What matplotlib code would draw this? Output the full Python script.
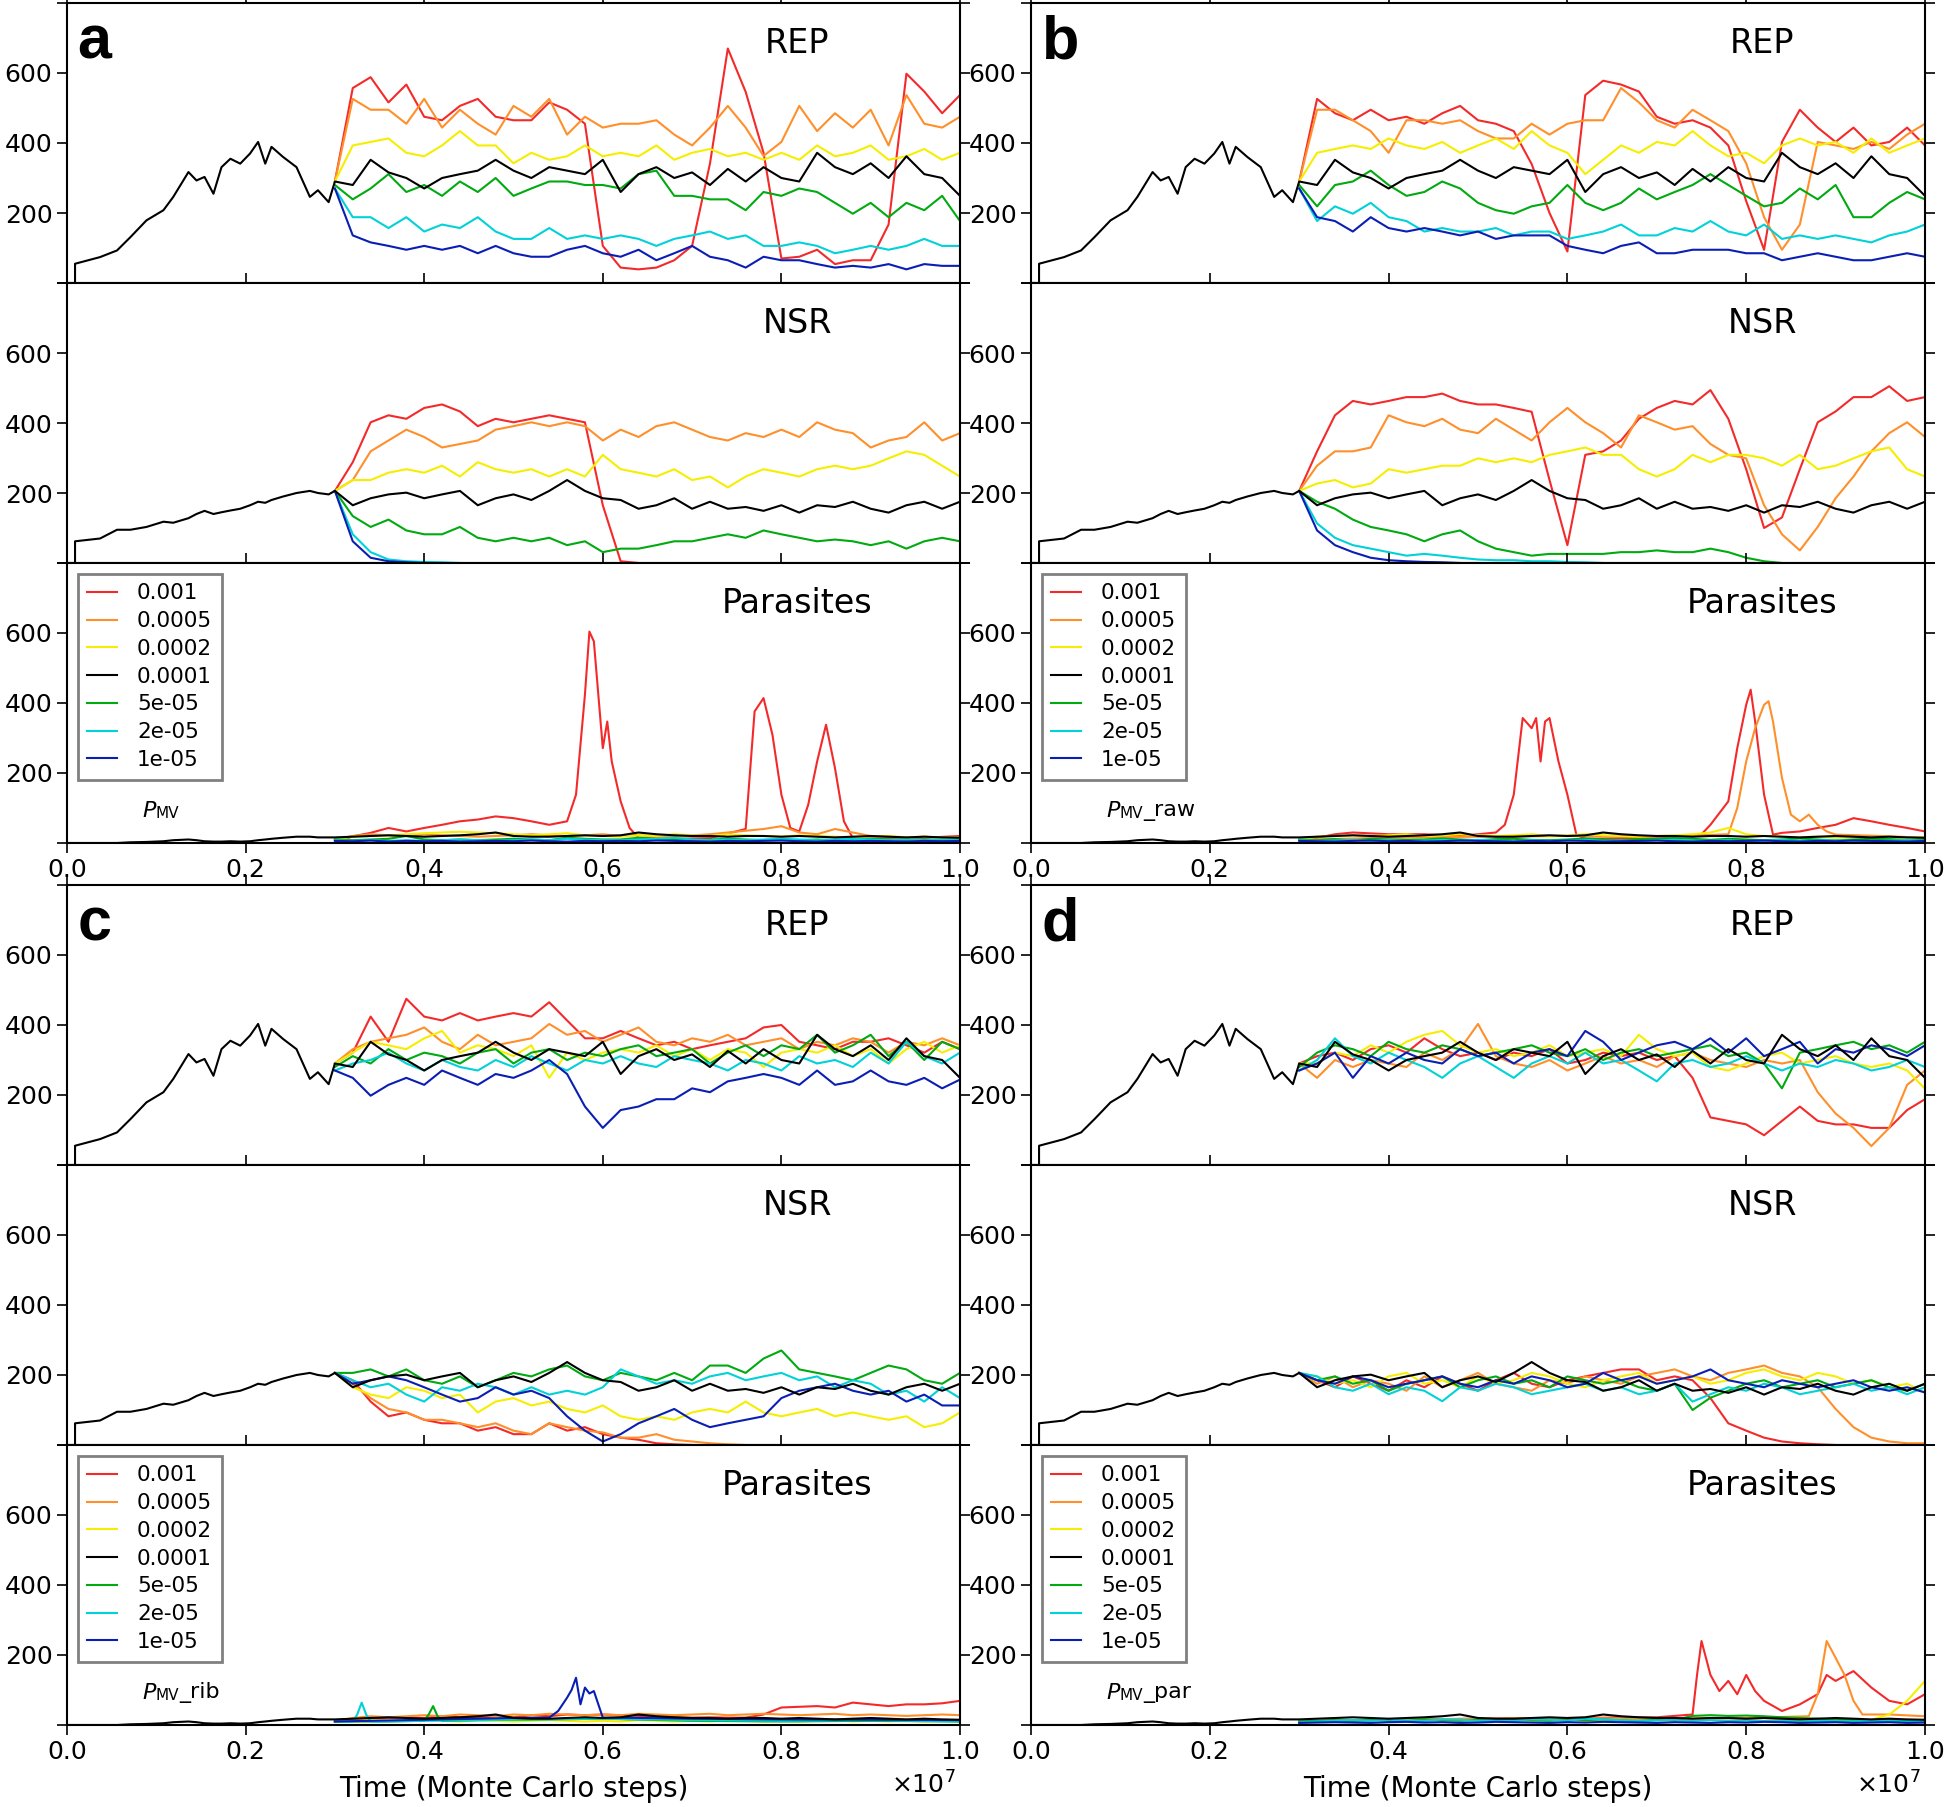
import numpy as np
import matplotlib.pyplot as plt
from matplotlib.lines import Line2D

# colours / labels in legend order (0.0001 = black reference run)
COLORS = ['#f42a2a', '#ff8f2a', '#f6ee00', '#000000', '#00aa10', '#00d2d8', '#0a1eb4']
LABELS = ['0.001', '0.0005', '0.0002', '0.0001', '5e-05', '2e-05', '1e-05']

# sampling times after the switch at 0.3e7 (units of 1e7 MC steps)
T = np.round(np.arange(0.30, 1.001, 0.02), 2)

# common black run before 0.3e7
PRE_X = [0.0, 0.009, 0.009, 0.037, 0.056, 0.071, 0.089, 0.108, 0.119, 0.136, 0.145, 0.154, 0.164,
         0.173, 0.183, 0.194, 0.205, 0.214, 0.222, 0.229, 0.242, 0.257, 0.272, 0.281, 0.293]
PRE_REP = [0, 0, 55, 74, 93, 131, 179, 208, 246, 317, 293, 303, 255, 331, 355, 341, 370, 403, 341,
           389, 360, 331, 246, 265, 231]
PRE_NSR = [0, 0, 62, 70, 95, 95, 103, 118, 115, 128, 140, 149, 140, 145, 150, 155, 165, 175, 172,
           180, 190, 200, 206, 200, 196]
PRE_PAR = [0, 0, 0, 0, 0, 2, 3, 5, 8, 10, 8, 5, 4, 4, 5, 4, 5, 8, 10, 12, 15, 18, 18, 16, 16]

# black (0.0001) run after 0.3e7, same in all panels
BLACK_REP = [290, 280, 352, 316, 300, 270, 300, 311, 321, 352, 321, 300, 331, 321, 311, 352, 260, 311,
             331, 300, 316, 280, 326, 290, 331, 300, 290, 372, 331, 311, 342, 300, 362, 311, 300, 249]
BLACK_NSR = [206, 165, 185, 196, 201, 185, 196, 206, 165, 185, 196, 180, 206, 237, 206, 185, 180, 155,
             165, 185, 155, 175, 155, 160, 149, 165, 144, 165, 160, 175, 155, 144, 165, 175, 155, 175]
BLACK_PAR = [16, 18, 20, 22, 20, 18, 20, 22, 25, 30, 20, 18, 18, 20, 22, 20, 22, 30, 25, 22, 20, 20,
             18, 20, 20, 18, 20, 18, 16, 18, 20, 18, 16, 18, 16, 15]

# ---- panel a (P_MV) : red, orange, yellow, green, cyan, blue
A_REP = [
    [290, 557, 588, 516, 567, 475, 465, 506, 526, 475, 465, 465, 516, 495, 455, 106, 44, 39, 44, 65,
     106, 341, 670, 546, 372, 70, 75, 95, 54, 65, 65, 167, 598, 547, 485, 537],
    [290, 526, 495, 495, 455, 526, 444, 495, 455, 424, 506, 475, 526, 424, 475, 444, 455, 455, 465, 424,
     393, 444, 506, 444, 363, 403, 506, 434, 485, 444, 495, 393, 537, 455, 444, 475],
    [290, 393, 403, 413, 372, 362, 393, 434, 393, 393, 342, 372, 352, 362, 393, 362, 372, 362, 393, 352,
     372, 383, 362, 372, 352, 372, 352, 393, 362, 372, 393, 352, 362, 383, 352, 372],
    [280, 239, 270, 311, 260, 280, 249, 290, 260, 300, 249, 270, 290, 290, 280, 280, 270, 311, 321, 249,
     249, 239, 239, 208, 260, 249, 270, 260, 229, 198, 229, 188, 229, 208, 249, 177],
    [270, 188, 188, 157, 188, 147, 167, 157, 188, 147, 126, 126, 157, 126, 136, 126, 136, 126, 106, 126,
     136, 147, 126, 136, 106, 106, 116, 106, 85, 95, 106, 95, 106, 126, 106, 106],
    [270, 136, 116, 106, 95, 106, 95, 106, 85, 106, 85, 75, 75, 95, 106, 85, 75, 95, 65, 85,
     106, 75, 65, 44, 75, 65, 65, 54, 44, 49, 44, 54, 39, 54, 49, 49],
]
A_NSR = [
    [206, 288, 402, 422, 412, 443, 453, 433, 391, 412, 402, 412, 422, 412, 402, 165, 5, 0],
    [206, 237, 319, 350, 381, 360, 330, 340, 350, 381, 391, 402, 391, 402, 391, 350, 381, 360, 391, 402,
     381, 360, 350, 371, 360, 381, 360, 402, 381, 371, 330, 350, 360, 402, 350, 371],
    [206, 237, 237, 258, 268, 258, 278, 247, 288, 268, 258, 268, 247, 268, 247, 309, 268, 258, 247, 268,
     237, 247, 216, 247, 268, 258, 247, 268, 278, 268, 278, 299, 319, 309, 278, 247],
    [206, 134, 103, 124, 93, 82, 82, 103, 72, 62, 72, 62, 72, 51, 62, 31, 41, 41, 51, 62,
     62, 72, 82, 72, 93, 82, 72, 62, 67, 62, 51, 62, 41, 62, 72, 62],
    [206, 82, 31, 10, 5, 3, 2, 0],
    [206, 62, 15, 5, 2, 0],
]
A_PAR_RED_X = [0.31, 0.32, 0.34, 0.36, 0.38, 0.40, 0.42, 0.44, 0.46, 0.48, 0.50, 0.52, 0.54, 0.56,
               0.57, 0.58, 0.585, 0.59, 0.60, 0.605, 0.61, 0.62, 0.63, 0.64, 0.68, 0.72, 0.76, 0.77,
               0.78, 0.79, 0.80, 0.81, 0.82, 0.83, 0.84, 0.85, 0.86, 0.87, 0.88, 0.92, 0.96, 1.0]
A_PAR_RED_Y = [10, 19, 29, 43, 33, 43, 52, 62, 67, 76, 71, 62, 52, 62, 138, 424, 604, 576, 271, 347,
               233, 119, 43, 14, 12, 14, 40, 376, 414, 309, 138, 43, 33, 109, 233, 338, 214, 62, 14,
               15, 15, 20]
A_PAR = [
    (A_PAR_RED_X, A_PAR_RED_Y),
    [10, 20, 25, 22, 20, 25, 22, 20, 18, 20, 22, 25, 22, 20, 22, 25, 20, 22, 18, 20, 22, 25, 30, 35,
     40, 48, 30, 25, 40, 30, 20, 18, 15, 18, 15, 15],
    [10, 18, 20, 22, 25, 28, 30, 32, 30, 28, 25, 22, 25, 28, 22, 20, 18, 22, 20, 25, 22, 20, 25, 22,
     20, 18, 22, 20, 18, 16, 18, 20, 16, 18, 15, 16],
    [10, 8, 10, 12, 20, 10, 8, 10, 8, 10, 12, 10, 8, 15, 12, 10, 10, 15, 12, 10, 8, 10, 12, 10,
     8, 10, 8, 10, 8, 10, 12, 10, 8, 10, 8, 10],
    [8, 6, 8, 6, 8, 6, 8, 10, 8, 6, 8, 10, 8, 12, 10, 8, 8, 10, 12, 15, 10, 8, 10, 8,
     10, 12, 10, 8, 10, 12, 10, 8, 10, 8, 10, 8],
    [6, 5, 7, 4, 6, 5, 6, 4, 5, 6, 5, 7, 5, 4, 6, 5, 6, 5, 7, 6, 5, 4, 6, 5,
     6, 7, 5, 4, 6, 5, 6, 5, 4, 6, 5, 6],
]

# ---- panel b (P_MV_raw)
B_REP = [
    [290, 526, 485, 465, 495, 465, 475, 455, 485, 506, 465, 455, 434, 340, 200, 90, 537, 578, 567, 547,
     475, 455, 465, 444, 393, 234, 95, 403, 495, 444, 403, 444, 393, 403, 444, 393],
    [290, 495, 495, 465, 434, 372, 465, 465, 455, 465, 434, 413, 413, 455, 424, 455, 465, 465, 557, 516,
     465, 444, 495, 465, 434, 342, 188, 95, 167, 403, 393, 383, 403, 383, 424, 455],
    [290, 372, 383, 393, 383, 413, 393, 383, 403, 372, 393, 413, 383, 434, 393, 372, 311, 352, 393, 372,
     403, 393, 434, 393, 362, 372, 342, 393, 413, 393, 403, 372, 413, 372, 393, 413],
    [280, 219, 280, 290, 321, 280, 249, 260, 290, 270, 229, 208, 198, 219, 229, 280, 229, 208, 229, 270,
     239, 260, 280, 311, 280, 249, 219, 229, 270, 239, 280, 188, 188, 229, 260, 239],
    [270, 177, 219, 198, 229, 188, 177, 147, 157, 147, 147, 157, 136, 147, 147, 126, 136, 147, 167, 136,
     136, 157, 147, 177, 147, 136, 167, 126, 136, 126, 136, 126, 116, 136, 147, 167],
    [270, 188, 177, 147, 188, 157, 147, 157, 147, 136, 147, 126, 136, 136, 136, 106, 95, 85, 106, 116,
     85, 85, 95, 95, 95, 85, 85, 65, 75, 85, 75, 65, 65, 75, 85, 75],
]
B_NSR = [
    [206, 319, 422, 463, 453, 463, 474, 474, 484, 463, 453, 453, 443, 432, 237, 51, 309, 319, 350, 412,
     443, 463, 453, 494, 412, 268, 100, 130, 268, 402, 433, 474, 474, 505, 463, 474],
    [206, 278, 319, 319, 330, 422, 402, 391, 412, 381, 371, 412, 381, 350, 402, 443, 402, 371, 330, 422,
     402, 381, 391, 340, 309, 299, 165, 82, 36, 103, 185, 247, 319, 371, 402, 360],
    [206, 227, 237, 216, 227, 268, 258, 268, 278, 278, 299, 288, 299, 288, 309, 319, 330, 309, 309, 268,
     247, 268, 309, 288, 309, 309, 299, 278, 309, 268, 278, 299, 319, 330, 268, 247],
    [206, 175, 155, 124, 103, 93, 82, 62, 82, 93, 62, 41, 31, 21, 26, 26, 26, 26, 31, 31,
     36, 31, 31, 41, 31, 15, 5, 0],
    [206, 113, 72, 51, 41, 31, 21, 26, 21, 15, 10, 8, 8, 5, 5, 3, 2, 0],
    [206, 93, 51, 31, 15, 8, 5, 3, 2, 0],
]
B_PAR_RED_X = [0.31, 0.34, 0.36, 0.40, 0.44, 0.48, 0.52, 0.53, 0.54, 0.55, 0.56, 0.565, 0.57, 0.575,
               0.58, 0.59, 0.60, 0.61, 0.62, 0.70, 0.75, 0.76, 0.78, 0.79, 0.80, 0.805, 0.81, 0.82,
               0.83, 0.84, 0.86, 0.88, 0.90, 0.92, 0.94, 0.96, 0.98, 1.0]
B_PAR_RED_Y = [10, 25, 30, 25, 25, 20, 30, 52, 138, 357, 328, 357, 233, 347, 357, 233, 138, 24, 12, 15,
               25, 52, 119, 271, 395, 438, 347, 138, 24, 29, 33, 43, 52, 71, 62, 52, 43, 33]
B_PAR_ORA_X = [0.31, 0.40, 0.50, 0.60, 0.70, 0.78, 0.79, 0.80, 0.81, 0.82, 0.825, 0.83, 0.84, 0.85,
               0.86, 0.87, 0.88, 0.89, 0.90, 0.95, 1.0]
B_PAR_ORA_Y = [10, 15, 18, 20, 18, 25, 100, 233, 328, 395, 405, 347, 186, 81, 62, 81, 52, 33, 24, 20, 15]
B_PAR = [
    (B_PAR_RED_X, B_PAR_RED_Y),
    (B_PAR_ORA_X, B_PAR_ORA_Y),
    [10, 18, 20, 22, 20, 22, 25, 20, 22, 25, 22, 20, 22, 25, 20, 22, 25, 22, 20, 18, 20, 22, 25, 30,
     43, 25, 20, 18, 16, 18, 15, 16, 15, 14, 15, 16],
    [10, 8, 11, 7, 12, 10, 9, 10, 13, 10, 8, 11, 12, 9, 8, 10, 13, 10, 8, 11, 12, 14, 12, 9,
     12, 10, 8, 10, 13, 10, 7, 10, 12, 11, 8, 10],
    [8, 6, 7, 9, 6, 8, 5, 7, 8, 6, 9, 7, 5, 8, 6, 7, 9, 6, 7, 5, 8, 9, 7, 6,
     8, 5, 7, 9, 6, 7, 8, 6, 5, 7, 9, 6],
    [6, 5, 4, 6, 7, 5, 6, 4, 5, 7, 6, 5, 4, 6, 5, 7, 6, 4, 5, 6, 7, 5, 4, 6,
     5, 6, 7, 5, 4, 6, 5, 7, 6, 5, 4, 6],
]

# ---- panel c (P_MV_rib)
C_REP = [
    [290, 321, 424, 352, 475, 424, 413, 434, 413, 424, 434, 424, 465, 413, 362, 362, 383, 362, 342, 352,
     331, 342, 352, 362, 393, 400, 352, 342, 331, 352, 352, 362, 342, 321, 352, 331],
    [290, 331, 352, 362, 372, 393, 352, 331, 372, 342, 352, 362, 403, 372, 383, 352, 372, 393, 352, 342,
     362, 352, 372, 342, 352, 362, 331, 352, 342, 362, 352, 321, 352, 342, 362, 342],
    [290, 321, 352, 342, 331, 362, 383, 321, 342, 331, 311, 342, 249, 321, 300, 321, 331, 321, 342, 311,
     331, 300, 331, 321, 280, 321, 331, 321, 342, 311, 331, 290, 331, 352, 321, 342],
    [280, 311, 290, 331, 300, 321, 311, 290, 321, 331, 290, 321, 331, 300, 321, 311, 331, 342, 311, 321,
     331, 290, 321, 342, 311, 342, 331, 372, 321, 342, 372, 311, 352, 300, 352, 331],
    [270, 290, 300, 321, 290, 270, 300, 280, 270, 300, 280, 311, 290, 270, 300, 290, 311, 290, 280, 311,
     300, 290, 270, 300, 290, 270, 311, 290, 300, 280, 321, 290, 352, 311, 290, 321],
    [270, 249, 198, 229, 249, 229, 270, 249, 229, 260, 249, 270, 300, 260, 167, 106, 157, 167, 188, 188,
     219, 208, 239, 249, 260, 249, 229, 270, 229, 239, 270, 239, 229, 249, 219, 244],
]
C_NSR = [
    [206, 185, 124, 82, 93, 72, 62, 62, 41, 51, 31, 31, 62, 41, 51, 31, 21, 15, 5, 2, 0],
    [206, 175, 134, 103, 93, 72, 72, 62, 51, 62, 41, 31, 62, 51, 41, 36, 21, 21, 31, 15, 10, 5, 2, 0],
    [206, 165, 144, 134, 165, 155, 134, 144, 93, 124, 134, 113, 124, 103, 93, 113, 82, 72, 82, 72,
     93, 103, 93, 124, 93, 82, 93, 103, 82, 93, 82, 72, 82, 51, 62, 93],
    [206, 206, 216, 196, 216, 185, 175, 196, 165, 185, 206, 196, 216, 227, 196, 185, 206, 196, 185, 206,
     185, 227, 227, 206, 247, 270, 216, 206, 196, 185, 206, 227, 216, 185, 175, 206],
    [206, 185, 165, 175, 144, 124, 165, 155, 175, 165, 144, 165, 144, 155, 144, 165, 216, 196, 175, 185,
     175, 196, 206, 185, 196, 206, 185, 196, 165, 185, 175, 144, 155, 124, 165, 134],
    [206, 175, 185, 196, 185, 165, 144, 124, 134, 165, 144, 155, 134, 82, 41, 10, 31, 62, 82, 103,
     72, 51, 62, 72, 82, 134, 155, 165, 175, 155, 144, 155, 124, 144, 113, 113],
]
C_PAR_GRN_X = [0.30, 0.36, 0.40, 0.405, 0.41, 0.415, 0.42, 0.50, 0.60, 0.70, 0.80, 0.90, 1.0]
C_PAR_GRN_Y = [10, 10, 12, 30, 54, 25, 12, 15, 18, 12, 10, 12, 10]
C_PAR_CYA_X = [0.30, 0.32, 0.325, 0.33, 0.335, 0.34, 0.40, 0.50, 0.60, 0.70, 0.80, 0.90, 1.0]
C_PAR_CYA_Y = [10, 10, 30, 64, 30, 10, 12, 15, 18, 14, 12, 14, 10]
C_PAR_BLU_X = [0.30, 0.40, 0.50, 0.54, 0.55, 0.555, 0.56, 0.565, 0.57, 0.575, 0.58, 0.585, 0.59,
               0.595, 0.60, 0.65, 0.70, 0.80, 0.90, 1.0]
C_PAR_BLU_Y = [10, 15, 20, 21, 40, 59, 78, 100, 135, 59, 107, 90, 97, 59, 21, 20, 18, 16, 15, 14]
C_PAR = [
    [10, 15, 18, 20, 22, 20, 25, 22, 20, 25, 22, 28, 25, 30, 28, 30, 28, 26, 24, 22, 21, 22, 21, 21,
     30, 50, 52, 54, 50, 64, 59, 54, 59, 59, 62, 69],
    [10, 20, 25, 22, 25, 28, 25, 30, 28, 25, 30, 28, 32, 30, 28, 30, 28, 32, 30, 28, 30, 32, 28, 30,
     32, 30, 28, 30, 32, 28, 30, 28, 26, 28, 30, 28],
    [10, 12, 15, 12, 14, 16, 12, 10, 14, 12, 10, 12, 14, 12, 10, 12, 10, 14, 12, 10, 12, 10, 14, 12,
     10, 12, 10, 12, 14, 10, 12, 10, 12, 10, 12, 10],
    (C_PAR_GRN_X, C_PAR_GRN_Y),
    (C_PAR_CYA_X, C_PAR_CYA_Y),
    (C_PAR_BLU_X, C_PAR_BLU_Y),
]

# ---- panel d (P_MV_par)
D_REP = [
    [290, 311, 321, 300, 331, 342, 321, 362, 331, 311, 321, 300, 321, 311, 331, 290, 300, 321, 311, 321,
     300, 311, 249, 136, 126, 116, 85, 126, 167, 126, 116, 116, 106, 106, 157, 188],
    [290, 249, 300, 280, 300, 290, 280, 321, 300, 331, 403, 311, 290, 280, 300, 270, 290, 311, 290, 300,
     280, 311, 321, 300, 290, 280, 300, 290, 300, 208, 147, 106, 54, 106, 229, 270],
    [290, 290, 321, 311, 342, 321, 352, 372, 383, 342, 321, 331, 311, 321, 342, 311, 321, 331, 311, 372,
     331, 311, 321, 280, 270, 290, 311, 321, 290, 300, 311, 290, 280, 290, 270, 218],
    [280, 321, 342, 331, 311, 352, 331, 321, 342, 331, 311, 321, 331, 342, 321, 311, 331, 300, 321, 331,
     311, 321, 331, 342, 311, 321, 290, 219, 321, 331, 342, 352, 331, 342, 321, 352],
    [270, 300, 362, 311, 290, 321, 300, 280, 249, 290, 311, 280, 249, 290, 311, 290, 321, 290, 300, 270,
     239, 290, 300, 280, 290, 311, 290, 270, 290, 280, 300, 290, 270, 280, 300, 280],
    [270, 290, 321, 249, 311, 290, 321, 300, 290, 331, 311, 321, 290, 321, 331, 311, 383, 352, 300, 321,
     342, 352, 331, 362, 321, 362, 311, 331, 352, 290, 331, 321, 342, 331, 311, 342],
]
D_NSR = [
    [206, 185, 165, 196, 175, 155, 185, 165, 196, 175, 155, 185, 206, 175, 165, 185, 196, 206, 216, 216,
     185, 196, 185, 134, 62, 41, 21, 10, 5, 2, 0],
    [206, 175, 196, 165, 185, 175, 155, 196, 165, 185, 206, 175, 165, 155, 185, 175, 196, 185, 175, 196,
     206, 216, 196, 185, 206, 216, 227, 206, 196, 165, 103, 51, 21, 10, 5, 5],
    [206, 196, 175, 185, 165, 196, 206, 175, 185, 165, 196, 175, 185, 206, 196, 175, 165, 185, 196, 206,
     175, 185, 196, 175, 185, 206, 216, 196, 185, 206, 196, 175, 185, 165, 175, 150],
    [206, 185, 196, 175, 185, 155, 175, 185, 196, 165, 185, 196, 175, 185, 165, 196, 185, 175, 185, 165,
     155, 175, 100, 135, 155, 175, 185, 165, 175, 185, 165, 175, 185, 165, 155, 175],
    [206, 196, 165, 155, 175, 145, 165, 155, 125, 165, 155, 175, 165, 145, 155, 165, 175, 155, 165, 145,
     155, 175, 124, 145, 165, 155, 175, 165, 145, 155, 165, 175, 155, 165, 145, 165],
    [206, 185, 175, 196, 185, 165, 175, 185, 196, 175, 165, 185, 175, 196, 185, 165, 175, 206, 185, 196,
     175, 185, 196, 216, 185, 175, 165, 185, 175, 165, 175, 185, 165, 155, 165, 150],
]
D_PAR_RED_X = [0.30, 0.40, 0.50, 0.60, 0.70, 0.74, 0.745, 0.75, 0.76, 0.77, 0.78, 0.79, 0.80, 0.81,
               0.82, 0.84, 0.86, 0.88, 0.89, 0.90, 0.92, 0.94, 0.96, 0.98, 1.0]
D_PAR_RED_Y = [10, 15, 18, 20, 22, 30, 143, 240, 143, 97, 126, 88, 143, 97, 69, 40, 59, 88, 143, 126,
               154, 107, 69, 59, 88]
D_PAR_ORA_X = [0.30, 0.40, 0.50, 0.60, 0.70, 0.80, 0.87, 0.88, 0.89, 0.90, 0.91, 0.92, 0.93, 0.96, 1.0]
D_PAR_ORA_Y = [10, 15, 18, 20, 18, 20, 25, 88, 240, 192, 143, 69, 30, 30, 25]
D_PAR = [
    (D_PAR_RED_X, D_PAR_RED_Y),
    (D_PAR_ORA_X, D_PAR_ORA_Y),
    [10, 12, 14, 12, 15, 12, 14, 16, 12, 14, 12, 15, 13, 12, 14, 16, 12, 14, 15, 12, 14, 12, 15, 14,
     12, 14, 12, 15, 14, 12, 14, 12, 15, 30, 69, 126],
    [10, 12, 14, 12, 15, 13, 12, 16, 14, 12, 15, 13, 16, 14, 12, 15, 14, 16, 13, 12, 15, 14, 26, 28,
     26, 27, 25, 22, 20, 18, 16, 15, 14, 15, 12, 14],
    [8, 10, 12, 14, 12, 15, 13, 12, 16, 15, 12, 14, 13, 16, 15, 12, 18, 16, 14, 12, 13, 15, 12, 14,
     12, 13, 11, 12, 10, 12, 11, 10, 12, 11, 10, 12],
    [6, 7, 8, 7, 6, 8, 9, 7, 8, 6, 7, 9, 8, 7, 6, 8, 7, 9, 8, 7, 6, 8, 7, 6,
     8, 7, 9, 8, 6, 7, 8, 6, 7, 8, 6, 7],
]

PANELS = [('a', '', A_REP, A_NSR, A_PAR),
          ('b', '_raw', B_REP, B_NSR, B_PAR),
          ('c', '_rib', C_REP, C_NSR, C_PAR),
          ('d', '_par', D_REP, D_NSR, D_PAR)]

W, H = 1946, 1807
fig = plt.figure(figsize=(W / 100, H / 100), dpi=100)

col_x = [67, 1031]
col_w = [893, 894]
row_top = [3, 885]
sub_h = 280


def draw(ax, series, pre, black):
    col_idx = [0, 1, 2, 4, 5, 6]
    for k, s in zip(col_idx, series):
        if isinstance(s, tuple):
            xs, ys = s
        else:
            xs, ys = T[:len(s)], s
        ax.plot(xs, ys, color=COLORS[k], lw=1.5, zorder=2 + k * 0.01)
    ax.plot(list(PRE_X) + list(T), pre + black, color='k', lw=1.5, zorder=3)


for p, (letter, suffix, rep, nsr, par) in enumerate(PANELS):
    r, c = divmod(p, 2)
    axes = []
    for j in range(3):
        top = row_top[r] + j * sub_h
        ax = fig.add_axes([col_x[c] / W, 1 - (top + sub_h) / H, col_w[c] / W, sub_h / H])
        axes.append(ax)
    draw(axes[0], rep, PRE_REP, BLACK_REP)
    draw(axes[1], nsr, PRE_NSR, BLACK_NSR)
    draw(axes[2], par, PRE_PAR, BLACK_PAR)
    for j, (ax, name) in enumerate(zip(axes, ['REP', 'NSR', 'Parasites'])):
        ax.set_xlim(0, 1)
        ax.set_ylim(0, 800)
        ax.set_xticks([0, 0.2, 0.4, 0.6, 0.8, 1.0])
        ax.set_yticks([0, 200, 400, 600, 800])
        ax.set_yticklabels(['', '200', '400', '600', ''])
        ax.tick_params(direction='out', top=True, right=True, length=7, width=1.2,
                       labelsize=18, labelbottom=(j == 2))
        if j == 2:
            ax.set_xticklabels(['0.0', '0.2', '0.4', '0.6', '0.8', '1.0'])
        for sp in ax.spines.values():
            sp.set_linewidth(1.5)
        ax.text(0.818, 0.915, name, transform=ax.transAxes, ha='center', va='top', fontsize=24)
    axes[0].text(0.012, 0.958, letter, transform=axes[0].transAxes, ha='left', va='top',
                 fontsize=44, fontweight='bold', family='Liberation Sans')

    handles = [Line2D([], [], color=col, lw=1.5) for col in COLORS]
    leg = axes[2].legend(handles, LABELS, loc='upper left', fontsize=15.5, handlelength=1.35,
                         handletextpad=0.95, labelspacing=0.36, fancybox=False, framealpha=1,
                         edgecolor='0.5', borderaxespad=0.5, borderpad=0.45)
    leg.get_frame().set_linewidth(2)

    t1 = axes[2].text(0.084, 0.093, 'P', transform=axes[2].transAxes, fontsize=16,
                      style='italic', va='baseline')
    t2 = axes[2].annotate('MV', xy=(1, 0), xycoords=t1, fontsize=11, va='bottom')
    if suffix:
        axes[2].annotate(suffix, xy=(1, 0), xycoords=t2, fontsize=16, va='bottom')

    if r == 1:
        axes[2].set_xlabel('Time (Monte Carlo steps)', fontsize=20, labelpad=8)
        axes[2].text(0.995, -0.165, r'$\times10^{7}$', transform=axes[2].transAxes,
                     ha='right', va='top', fontsize=18)

fig.savefig('out.png', dpi=100)
